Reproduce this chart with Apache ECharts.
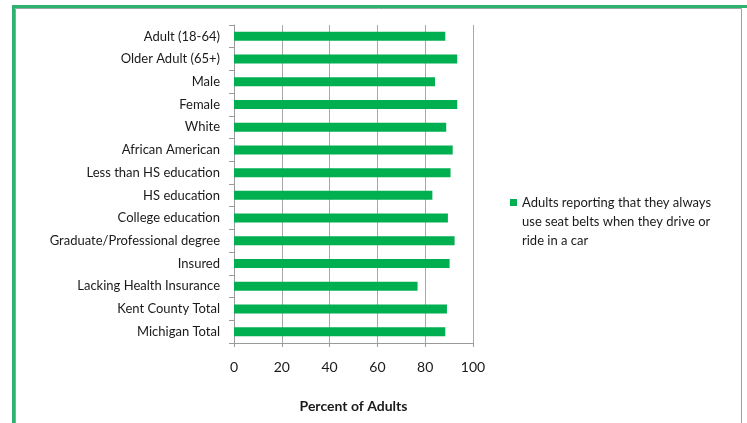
<!DOCTYPE html>
<html>
<head>
<meta charset="utf-8">
<script src="https://cdn.jsdelivr.net/npm/echarts@6/dist/echarts.min.js"></script>
<style>
html,body{margin:0;padding:0;background:#fff;}
#chart{width:747px;height:423px;}
</style>
</head>
<body>
<div id="chart"></div>
<script>
var categories = ['Adult (18-64)', 'Older Adult (65+)', 'Male', 'Female', 'White', 'African American',
  'Less than HS education', 'HS education', 'College education', 'Graduate/Professional degree',
  'Insured', 'Lacking Health Insurance', 'Kent County Total', 'Michigan Total'];
var seatBeltValues = [88.4, 93.4, 84.1, 93.4, 88.8, 91.5, 90.6, 83.0, 89.5, 92.3, 90.2, 76.8, 89.1, 88.4];
var seriesName = 'Adults reporting that they always\nuse seat belts when they drive or\nride in a car';
var xTicks = [0, 20, 40, 60, 80, 100];

var FONT = 'Lato';
var chart = echarts.init(document.getElementById('chart'), null, {renderer: 'canvas'});
chart.setOption({
  animation: false,
  backgroundColor: '#fff',
  textStyle: {fontFamily: FONT},
  grid: {left: 234, right: 274, top: 25, bottom: 80, containLabel: false},
  xAxis: {
    type: 'value', min: xTicks[0], max: xTicks[xTicks.length - 1], interval: 20,
    name: 'Percent of Adults', nameLocation: 'middle', nameGap: 56,
    nameTextStyle: {fontFamily: FONT, fontSize: 14, fontWeight: 'bold', color: '#1a1a1a'},
    axisLine: {show: true, lineStyle: {color: '#9a9a9a', width: 1}},
    axisTick: {show: true, length: 4, lineStyle: {color: '#9a9a9a'}},
    axisLabel: {margin: 17, fontFamily: FONT, fontSize: 14, color: '#1a1a1a'},
    splitLine: {show: true, lineStyle: {color: '#a8a8a8', width: 1}}
  },
  yAxis: {
    type: 'category', data: categories, inverse: true,
    axisLine: {show: true, lineStyle: {color: '#9a9a9a', width: 1}},
    axisTick: {show: true, length: 5, inside: false, lineStyle: {color: '#9a9a9a'}},
    axisLabel: {margin: 14, fontFamily: FONT, fontSize: 13, color: '#1a1a1a'},
    splitLine: {show: false}
  },
  legend: {
    show: true, left: 510, top: 155, orient: 'vertical',
    itemWidth: 7, itemHeight: 7, itemGap: 0, padding: 0,
    icon: 'rect',
    formatter: function (name) { return '\n\n' + name; },
    textStyle: {fontFamily: FONT, fontSize: 13, color: '#1a1a1a', lineHeight: 19},
    data: [seriesName]
  },
  series: [{
    name: seriesName, type: 'bar', data: seatBeltValues, barWidth: 9,
    itemStyle: {color: '#00b050'}
  }],
  graphic: [
    {type: 'rect', shape: {x: 13.5, y: 6.5, width: 740, height: 430}, style: {fill: 'none', stroke: '#2db36f', lineWidth: 3}, silent: true},
    {type: 'rect', shape: {x: 15.5, y: 8.5, width: 726, height: 430}, style: {fill: 'none', stroke: '#9aa49e', lineWidth: 1}, silent: true}
  ]
});
</script>
</body>
</html>
